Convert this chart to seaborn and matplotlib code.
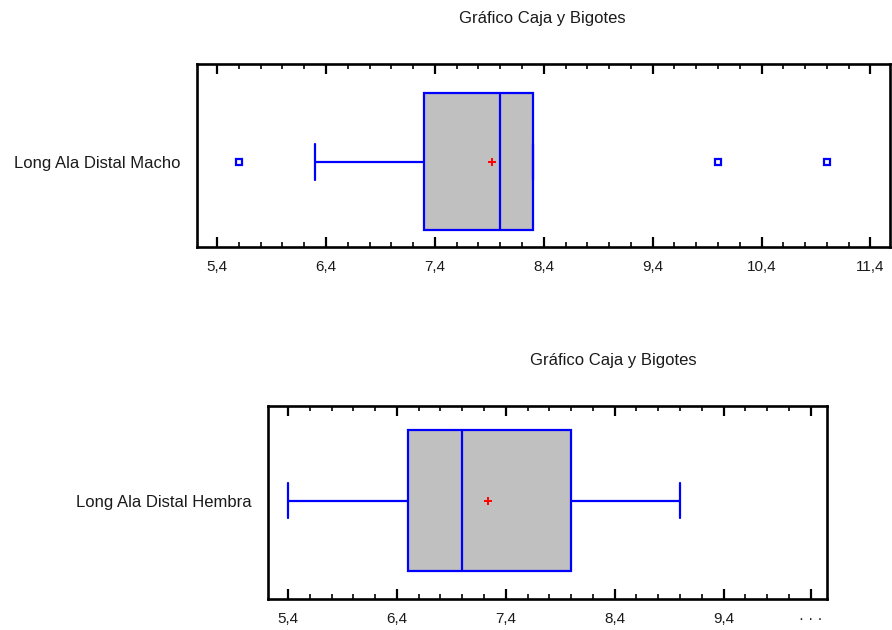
import matplotlib
matplotlib.use("Agg")
import matplotlib.pyplot as plt
import numpy as np
import pandas as pd
import seaborn as sns
from matplotlib.ticker import MultipleLocator

# observaciones (cuartiles, bigotes, media y atipicos)
macho_label = "Long Ala Distal Macho"
macho_vals = [5.6, 6.3, 6.9, 7.3, 7.5, 7.8, 8.0, 8.0, 8.0, 8.3, 8.3, 10.0, 11.0]
hembra_label = "Long Ala Distal Hembra"
hembra_vals = [5.4, 6.0, 6.3, 6.5, 6.7, 6.9, 7.0, 7.5, 7.8, 8.0, 8.4, 8.6, 9.0]

titulo = "Gráfico Caja y Bigotes"
macho_ticks = [5.4, 6.4, 7.4, 8.4, 9.4, 10.4, 11.4]
macho_ticklabels = ["5,4", "6,4", "7,4", "8,4", "9,4", "10,4", "11,4"]
hembra_ticks = [5.4, 6.4, 7.4, 8.4, 9.4, 10.2]
hembra_ticklabels = ["5,4", "6,4", "7,4", "8,4", "9,4", "· · ·"]

sns.set_style("white")
plt.rcParams['font.family'] = ['Liberation Sans', 'DejaVu Sans']

BLUE = "#0000FF"
GRAY = "#C0C0C0"
TXT = "#1a1a1a"


def draw_box(ax, label, vals, width, capw, xlim, ylim, ticks, ticklabels):
    df = pd.DataFrame({"serie": label, "valor": vals})
    sns.boxplot(data=df, x="valor", y="serie", ax=ax, color=GRAY, saturation=1,
                linecolor=BLUE, linewidth=1.6, width=width, whis=1.5,
                capwidths=capw, showmeans=True,
                meanprops=dict(marker="+", markeredgecolor="red", markersize=6,
                               markeredgewidth=1.4),
                flierprops=dict(marker="s", markerfacecolor="white",
                                markeredgecolor=BLUE, markersize=5, markeredgewidth=1.6))
    ax.set_xlim(*xlim)
    ax.set_ylim(*ylim)
    ax.set_xticks(ticks)
    ax.set_xticklabels(ticklabels, fontsize=11, color=TXT)
    ax.xaxis.set_minor_locator(MultipleLocator(0.2))
    ax.tick_params(axis="x", which="major", direction="in", length=7, width=1.6,
                   top=True, bottom=True, pad=9, colors="black", labelcolor=TXT)
    ax.tick_params(axis="x", which="minor", direction="in", length=3.5, width=1.4,
                   top=True, bottom=True)
    ax.tick_params(axis="y", length=0, pad=12, labelsize=12, labelcolor=TXT)
    ax.set_xlabel("")
    ax.set_ylabel("")
    for s in ax.spines.values():
        s.set_visible(True)
        s.set_color("black")
        s.set_linewidth(1.9)


fig = plt.figure(figsize=(8.92, 6.30), dpi=100)
ax1 = fig.add_axes([0.2209, 0.6079, 0.7769, 0.2905])
ax2 = fig.add_axes([0.3004, 0.0492, 0.6267, 0.3063])

draw_box(ax1, macho_label, macho_vals, 0.75, 0.197, (5.216, 11.58), (0.467, -0.533),
         macho_ticks, macho_ticklabels)
draw_box(ax2, hembra_label, hembra_vals, 0.73, 0.18, (5.216, 10.35), (0.51, -0.49),
         hembra_ticks, hembra_ticklabels)

fig.text(542 / 892, 1 - 18 / 630, titulo, ha="center", va="center", fontsize=12, color=TXT)
fig.text(613 / 892, 1 - 361 / 630, titulo, ha="center", va="center", fontsize=12, color=TXT)

fig.savefig("out.png", dpi=100)
